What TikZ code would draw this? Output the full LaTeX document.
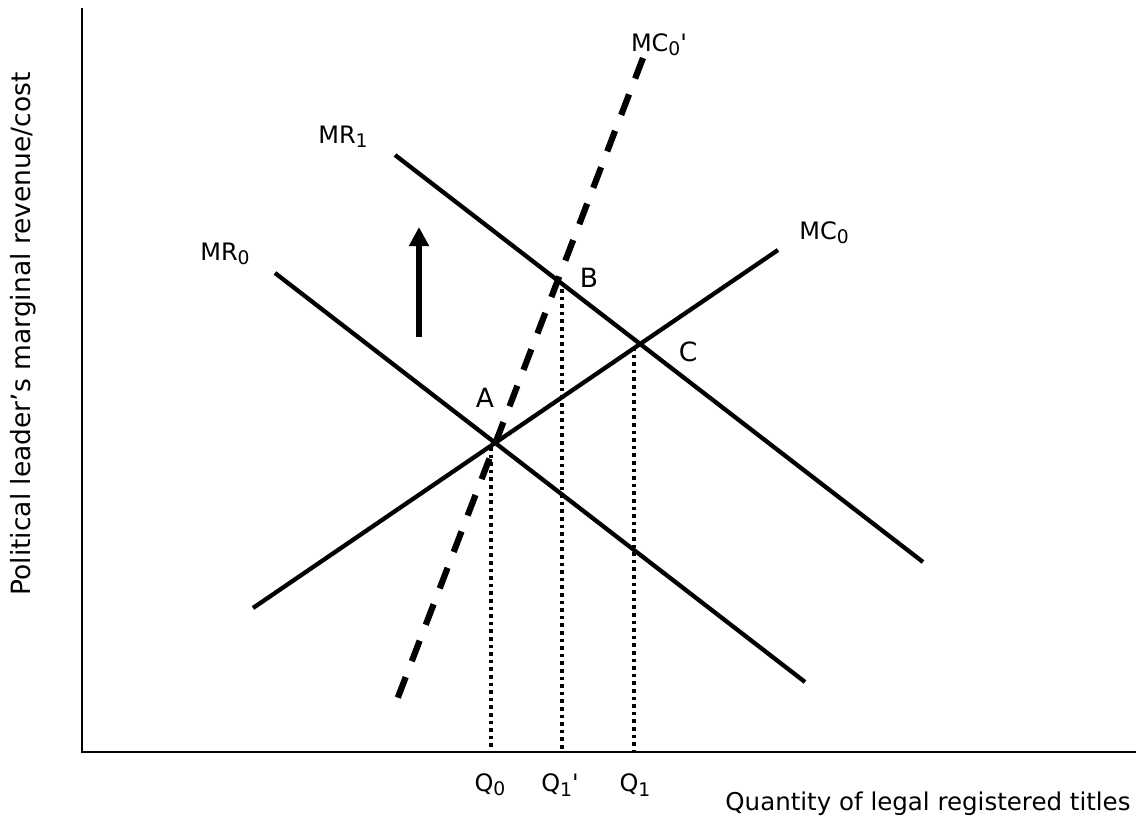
\documentclass[tikz,border=0pt]{standalone}
\usepackage{fontspec}
\setmainfont{DejaVu Sans}
\usetikzlibrary{arrows.meta}
\newcommand\lsub[1]{\raisebox{-0.32ex}{\scalebox{0.78}{#1}}}
\begin{document}
\begin{tikzpicture}[x=1pt,y=-1pt,
  lbl/.style={inner sep=0pt,font=\fontsize{24}{28}\selectfont},
  ptlbl/.style={inner sep=0pt,font=\fontsize{26.5}{30}\selectfont},
  axisline/.style={line width=2.5pt},
  curve/.style={line width=4.3pt},
  dcurve/.style={line width=6.2pt,dash pattern=on 22pt off 17pt},
  dotline/.style={line width=3.6pt,dash pattern=on 3.6pt off 4pt},
  shiftarrow/.style={line width=6pt,-{Triangle[width=19pt,length=19pt]}}]
\useasboundingbox (0,0) rectangle (1144,825);
% axes
\coordinate (O) at (82,752);
\coordinate (ytop) at (82,8);
\coordinate (xend) at (1136,752);
\draw[axisline] (ytop) -- (O) -- (xend);
% curves
\coordinate (mr0a) at (275,273); \coordinate (mr0b) at (805,682);
\coordinate (mr1a) at (395,155); \coordinate (mr1b) at (923,562);
\coordinate (mc0a) at (253,608); \coordinate (mc0b) at (778,250);
\coordinate (mcpa) at (395,705); \coordinate (mcpb) at (643,58);
\draw[curve] (mr0a) -- (mr0b);
\draw[curve] (mr1a) -- (mr1b);
\draw[curve] (mc0a) -- (mc0b);
\draw[dcurve] (mcpb) -- (mcpa);
% dotted drops
\coordinate (qa) at (491,447);
\coordinate (qb) at (562,289);
\coordinate (qc) at (634,347);
\draw[dotline] (qa) -- (qa |- O);
\draw[dotline] (qb) -- (qb |- O);
\draw[dotline] (qc) -- (qc |- O);
% shift arrow
\coordinate (arrS) at (419,337);
\coordinate (arrE) at (419,227);
\draw[shiftarrow] (arrS) -- (arrE);
% labels
\node[lbl] (lmr1) at (343,137) {MR\lsub{1}};
\node[lbl] (lmr0) at (225,254) {MR\lsub{0}};
\node[lbl] (lmcp) at (659,45) {MC\lsub{0}\textquotesingle};
\node[lbl] (lmc0) at (824,233) {MC\lsub{0}};
\node[ptlbl] (lA) at (485,398) {A};
\node[ptlbl] (lB) at (589,278) {B};
\node[ptlbl] (lC) at (688,352) {C};
\node[lbl] (lq0) at (490,785) {Q\lsub{0}};
\node[lbl] (lq1p) at (560,785) {Q\lsub{1}\textquotesingle};
\node[lbl] (lq1) at (635,785) {Q\lsub{1}};
\node[lbl,font=\fontsize{24.5}{28}\selectfont] (xlab) at (928,804) {Quantity of legal registered titles};
\node[lbl,rotate=90,font=\fontsize{26.5}{30}\selectfont] (ylab) at (23,334) {Political leader’s marginal revenue/cost};
\end{tikzpicture}
\end{document}
